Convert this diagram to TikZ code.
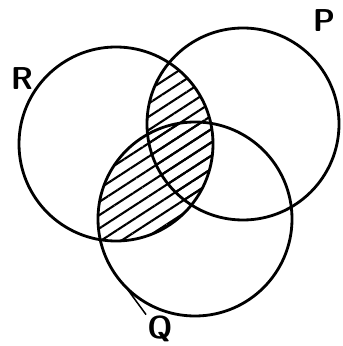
\documentclass[tikz,border=0pt]{standalone}
\usepackage{tikz}
\usetikzlibrary{patterns.meta}
\tikzset{
  ring/.style={draw=black,line width=2.4pt},
  hatch/.style={pattern={Lines[angle=33,distance=9.5pt,line width=1.8pt]},pattern color=black},
  tag/.style={font=\sffamily\bfseries\fontsize{27}{29}\selectfont,inner sep=1pt},
  lead/.style={draw=black,line width=1.3pt},
}
\begin{document}
\begin{tikzpicture}[x=0.03cm,y=-0.03cm]
\useasboundingbox (0,0) rectangle (342,346);
% centres of the three sets
\coordinate (r) at (116,144);
\coordinate (p) at (243,124);
\coordinate (q) at (195,219);
% shaded part: R with (P or Q)
\begin{scope}
  \clip (r) circle[radius=97];
  \fill[hatch] (p) circle[radius=96];
  \fill[hatch] (q) circle[radius=97];
\end{scope}
\draw[ring] (r) circle[radius=97];
\draw[ring] (p) circle[radius=96];
\draw[ring] (q) circle[radius=97];
% labels
\node[tag] (lr) at (22,79) {R};
\node[tag] (lp) at (324,21) {P};
\node[tag] (lq) at (160,329) {Q};
\coordinate (qtip) at (128,290);
\draw[lead] (lq.north west) -- (qtip);
\end{tikzpicture}
\end{document}
